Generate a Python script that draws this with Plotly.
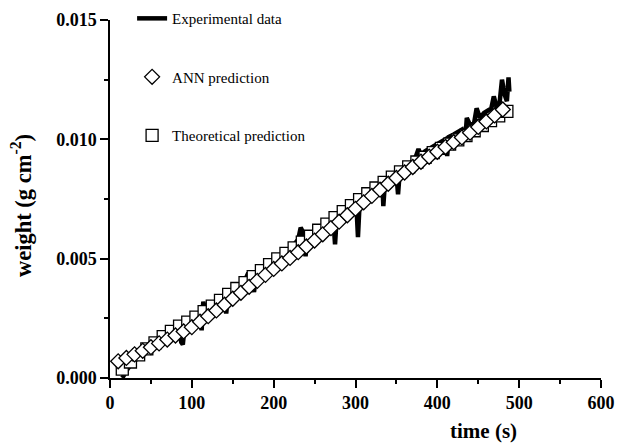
import plotly.graph_objects as go

# ---------------- data ----------------
exp_t = [15, 18, 22, 26, 30, 35, 40, 45, 50, 55, 60, 65, 70, 75, 80, 85, 87, 89, 91, 95,
         100, 105, 110, 112, 113, 114, 116, 120, 125, 130, 135, 140, 142, 144, 150, 155, 160,
         165, 169, 172, 176, 178, 185, 190, 195, 200, 205, 210, 215, 220, 225, 230, 233, 236,
         239, 241, 245, 250, 255, 260, 265, 270, 273, 275, 277, 282, 287, 292, 297, 301, 303,
         305, 310, 315, 320, 325, 330, 333, 334, 336, 340, 345, 350, 352, 354, 360, 365, 370,
         374, 377, 380, 385, 390, 395, 400, 405, 410, 412, 414, 420, 425, 430, 434, 436, 440,
         445, 448, 452, 457, 462, 466, 469, 472, 476, 479, 482, 485, 487, 488]
exp_w = [0.0000, 0.0002, 0.0004, 0.0006, 0.0007, 0.0009, 0.0010, 0.0012, 0.0013, 0.0014,
         0.0015, 0.0016, 0.0017, 0.0019, 0.0020, 0.0021, 0.0015, 0.0014, 0.0021, 0.0023,
         0.0024, 0.0026, 0.0027, 0.0020, 0.0027, 0.0032, 0.0029, 0.0029, 0.0030, 0.0031,
         0.0032, 0.0033, 0.0027, 0.0034, 0.0035, 0.0037, 0.0039, 0.0041, 0.0044, 0.0042,
         0.0036, 0.0042, 0.0044, 0.0046, 0.0047, 0.0049, 0.0050, 0.0051, 0.0053, 0.0054,
         0.0056, 0.0058, 0.0063, 0.0061, 0.0051, 0.0059, 0.0060, 0.0061, 0.0062, 0.0063,
         0.0064, 0.0066, 0.0066, 0.0056, 0.0067, 0.0068, 0.0069, 0.0071, 0.0072, 0.0073,
         0.0059, 0.0073, 0.0075, 0.0077, 0.0078, 0.0079, 0.0081, 0.0081, 0.0072, 0.0082,
         0.0083, 0.0084, 0.0085, 0.0077, 0.0086, 0.0088, 0.0089, 0.0091, 0.0093, 0.0096,
         0.0093, 0.0095, 0.0096, 0.0097, 0.0098, 0.0099, 0.0100, 0.0093, 0.0101, 0.0102,
         0.0103, 0.0104, 0.0099, 0.0109, 0.0106, 0.0107, 0.0113, 0.0109, 0.0111, 0.0112,
         0.0113, 0.0118, 0.0114, 0.0115, 0.0125, 0.0119, 0.0116, 0.0126, 0.0120]

ann_t = [10, 20, 30, 40, 50, 60, 70, 80, 90, 100, 110, 120, 130, 140, 150, 160, 170, 180,
         190, 200, 210, 220, 230, 240, 250, 260, 270, 280, 290, 300, 310, 320, 330, 340, 350,
         360, 370, 380, 390, 400, 410, 420, 430, 440, 450, 460, 470, 480]
ann_w = [0.00070, 0.00084, 0.00099, 0.00114, 0.00129, 0.00145, 0.00161, 0.00178, 0.00195,
         0.00213, 0.00236, 0.00259, 0.00283, 0.00307, 0.00332, 0.00357, 0.00382, 0.00407,
         0.00432, 0.00457, 0.00480, 0.00503, 0.00527, 0.00551, 0.00576, 0.00602, 0.00628,
         0.00655, 0.00682, 0.00709, 0.00736, 0.00763, 0.00789, 0.00814, 0.00838, 0.00861,
         0.00884, 0.00906, 0.00927, 0.00948, 0.00968, 0.00988, 0.01008, 0.01028, 0.01052,
         0.01075, 0.01100, 0.01125]

theo_t = [15, 25, 35, 45, 55, 65, 75, 85, 95, 105, 115, 125, 135, 145, 155, 165, 175, 185,
          195, 205, 215, 225, 235, 245, 255, 265, 275, 285, 295, 305, 315, 325, 335, 345, 355,
          365, 375, 385, 395, 405, 415, 425, 435, 445, 455, 465, 475, 485]
theo_w = [0.00037, 0.00067, 0.00097, 0.00122, 0.00147, 0.00173, 0.00195, 0.00217, 0.00234,
          0.00255, 0.00278, 0.00301, 0.00325, 0.00350, 0.00375, 0.00400, 0.00425, 0.00450,
          0.00475, 0.00499, 0.00522, 0.00545, 0.00569, 0.00594, 0.00619, 0.00645, 0.00672,
          0.00697, 0.00722, 0.00747, 0.00772, 0.00796, 0.00820, 0.00842, 0.00864, 0.00885,
          0.00905, 0.00925, 0.00944, 0.00962, 0.00980, 0.00998, 0.01016, 0.01036, 0.01058,
          0.01078, 0.01098, 0.01117]

x_ticks = [0, 100, 200, 300, 400, 500, 600]
y_ticks = [0.000, 0.005, 0.010, 0.015]

SERIF = "Liberation Serif, Times New Roman, serif"

fig = go.Figure()
fig.add_trace(go.Scatter(
    x=exp_t, y=exp_w, mode="lines", name="Experimental data",
    line=dict(color="black", width=4.5), legendgroup="a", legendrank=1))
fig.add_trace(go.Scatter(
    x=theo_t, y=theo_w, mode="markers", name="Theoretical prediction",
    marker=dict(symbol="square", size=12, color="white",
                line=dict(color="black", width=1.3)),
    legendgroup="c", legendrank=3))
fig.add_trace(go.Scatter(
    x=ann_t, y=ann_w, mode="markers", name="ANN prediction",
    marker=dict(symbol="diamond", size=11.5, color="white",
                line=dict(color="black", width=1.3)),
    legendgroup="b", legendrank=2))

axis_common = dict(
    showgrid=False, zeroline=False, showline=True, linecolor="black", linewidth=1.5,
    ticks="outside", ticklen=8, tickwidth=1.5, tickcolor="black",
    tickfont=dict(family=SERIF, size=18, color="black", weight="bold"),
    automargin=False,
)
fig.update_xaxes(range=[0, 600], tickvals=x_ticks, ticktext=[str(v) for v in x_ticks],
                 minor=dict(dtick=50, ticks="outside", ticklen=4, tickwidth=1.5,
                            tickcolor="black"),
                 **axis_common)
fig.update_yaxes(range=[0, 0.015], tickvals=y_ticks,
                 ticktext=["%.3f" % v for v in y_ticks],
                 minor=dict(dtick=0.0025, ticks="outside", ticklen=4, tickwidth=1.5,
                            tickcolor="black"),
                 **axis_common)

fig.update_layout(
    width=618, height=444,
    margin=dict(l=110, r=17, t=19.5, b=66.3, autoexpand=False),
    paper_bgcolor="white", plot_bgcolor="white",
    showlegend=True,
    legend=dict(x=0.045, y=1.05, xanchor="left", yanchor="top",
                bgcolor="rgba(0,0,0,0)", traceorder="grouped", tracegroupgap=36,
                font=dict(family=SERIF, size=15, color="black")),
    annotations=[
        dict(text="time (s)", xref="paper", yref="paper", x=0.76, y=-0.148,
             xanchor="center", yanchor="middle", showarrow=False,
             font=dict(family=SERIF, size=21, color="black", weight="bold")),
        dict(text="weight (g cm<sup>-2</sup>)", xref="paper", yref="paper",
             x=-0.18, y=0.482, textangle=-90, xanchor="center", yanchor="middle",
             showarrow=False,
             font=dict(family=SERIF, size=22.5, color="black", weight="bold")),
    ],
)

# remove the browser's default 8px page margin so the 618x444 figure fills the window
fig.write_html("out.html",
               config={"displayModeBar": False},
               post_script="document.body.style.margin='0';"
                           "document.body.style.overflow='hidden';")
